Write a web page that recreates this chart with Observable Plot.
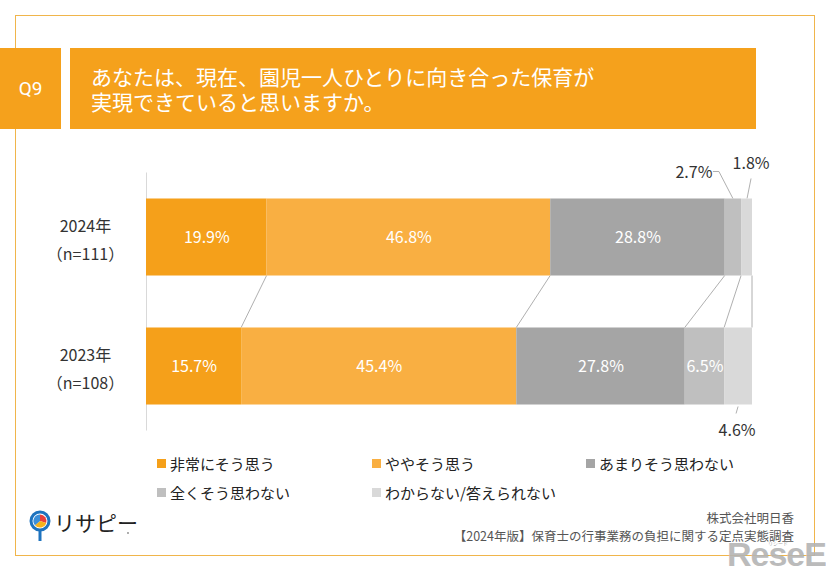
<!DOCTYPE html>
<html lang="ja">
<head>
<meta charset="utf-8">
<script src="https://cdn.jsdelivr.net/npm/d3@7"></script>
<script src="https://cdn.jsdelivr.net/npm/@observablehq/plot@0.6"></script>
<style>
  html, body { margin: 0; padding: 0; background: #fff; }
  body { width: 826px; height: 571px; position: relative; overflow: hidden;
         font-family: "Noto Sans CJK JP", "Noto Sans", sans-serif; }
  #chart { position: absolute; left: 0; top: 0; }
  .abs { position: absolute; }
  #frame { left: 15px; top: 15px; width: 800px; height: 541px; box-sizing: border-box;
           border: 1.5px solid #F0B54B; pointer-events: none; }
  .hdr { background: #F5A11C; color: #fff; }
  #q { left: 0; top: 48px; width: 61px; height: 81px; display: flex; align-items: center;
       justify-content: center; font-family: Roboto, "Noto Sans", sans-serif; font-size: 19px; }
  #title { left: 70px; top: 48px; width: 686px; height: 81px; box-sizing: border-box;
           padding-left: 21px; display: flex; flex-direction: column; justify-content: center;
           font-size: 21px; line-height: 25px; }
  .leg { font-size: 15px; color: #222; display: flex; align-items: center; height: 20px; white-space: nowrap; }
  .sw { width: 9px; height: 9px; margin-right: 4px; display: inline-block; }
  #cap { right: 32px; top: 509px; text-align: right; font-size: 12.5px; line-height: 18px; color: #555; }
  #logo { left: 28px; top: 508px; }
  #wm { left: 727px; top: 537px; font-family: "Liberation Sans", sans-serif; font-weight: bold;
        font-size: 34px; line-height: 34px; color: #b4b4b4; letter-spacing: -1px; opacity: 0.9; }
  #wmk { left: 768px; top: 540px; font-size: 5px; line-height: 5px; color: #aaa; }
</style>
</head>
<body>
<div id="chart"></div>
<script>
// ---- data ----
const years = ["2024", "2023"];
const yearLabels = ["2024年\n（n=111）", "2023年\n（n=108）"];
const categories = ["非常にそう思う", "ややそう思う", "あまりそう思わない", "全くそう思わない", "わからない/答えられない"];
const values2024 = [19.9, 46.8, 28.8, 2.7, 1.8];
const values2023 = [15.7, 45.4, 27.8, 6.5, 4.6];
const colors = ["#F5A01A", "#F9AF42", "#A5A5A5", "#BFBFBF", "#D9D9D9"];
const legendRows = [[0, 1, 2], [3, 4]];

// table built from the arrays
const seriesByYear = { "2024": values2024, "2023": values2023 };
const table = years.flatMap(y => categories.map((c, i) => ({ year: y, cat: c, value: seriesByYear[y][i] })));
const cum = arr => arr.map((v, i) => d3.sum(arr.slice(0, i + 1)));
const cum2024 = cum(values2024), cum2023 = cum(values2023);
const fmt = v => v.toFixed(1) + "%";

const stackOpts = { x: "value", y: "year", z: "cat", order: categories };

// connectors + leader lines drawn from the plot's scales
function connectors(index, scales) {
  const { x, y } = scales;
  const bw = y.bandwidth();
  const g = d3.create("svg:g").attr("fill", "none").attr("stroke", "#9a9a9a").attr("stroke-width", 0.8);
  const yTopBottom = y("2024") + bw, yBotTop = y("2023");
  cum2024.forEach((c, i) => {
    g.append("line").attr("x1", x(c)).attr("y1", yTopBottom).attr("x2", x(cum2023[i])).attr("y2", yBotTop);
  });
  const m27 = x(cum2024[3] - values2024[3] / 2), top24 = y("2024");
  g.append("polyline").attr("points", `${m27 - 20},${top24 - 27} ${m27 - 14},${top24 - 27} ${m27},${top24}`);
  const m18 = x(cum2024[4] - values2024[4] / 2);
  g.append("line").attr("x1", m18 + 4.5).attr("y1", top24 - 20).attr("x2", m18 + 0.5).attr("y2", top24);
  const m46 = x(cum2023[4] - values2023[4] / 2), bot23 = y("2023") + bw;
  g.append("line").attr("x1", m46).attr("y1", bot23 + 2).attr("x2", m46 - 2).attr("y2", bot23 + 9);
  return g.node();
}

const chart = Plot.plot({
  width: 826,
  height: 571,
  marginLeft: 146,
  marginRight: 74,
  marginTop: 172.5,
  marginBottom: 140.5,
  style: { fontFamily: '"Noto Sans CJK JP", "Noto Sans", sans-serif', background: "transparent" },
  x: { domain: [0, 100], axis: null },
  y: { type: "band", domain: years, paddingInner: 0.403, paddingOuter: 0.2015, round: false, label: null },
  color: { domain: categories, range: colors },
  marks: [
    Plot.ruleX([0], { stroke: "#d9d9d9", strokeWidth: 1 }),
    connectors,
    Plot.barX(table, Plot.stackX({ ...stackOpts, fill: "cat" })),
    Plot.text(table, Plot.stackX({ ...stackOpts, text: d => d.value >= 5 ? fmt(d.value) : null,
      fill: "white", fontSize: 16 })),
    Plot.text(table, Plot.stackX({ ...stackOpts,
      text: d => d.year === "2024" && d.cat === categories[3] ? fmt(d.value) : null,
      fill: "#333", fontSize: 16, textAnchor: "end", dx: -21, dy: -64.5 })),
    Plot.text(table, Plot.stackX({ ...stackOpts,
      text: d => d.year === "2024" && d.cat === categories[4] ? fmt(d.value) : null,
      fill: "#333", fontSize: 16, dx: 4, dy: -73.5 })),
    Plot.text(table, Plot.stackX({ ...stackOpts,
      text: d => d.year === "2023" && d.cat === categories[4] ? fmt(d.value) : null,
      fill: "#333", fontSize: 16, dx: -1.5, dy: 64.5 })),
    Plot.axisY({ tickSize: 0, tickPadding: 0, dx: -61, textAnchor: "middle", lineHeight: 1.75,
      fontSize: 16, fill: "#333", label: null,
      tickFormat: d => yearLabels[years.indexOf(d)] })
  ]
});
document.getElementById("chart").append(chart);
</script>

<div id="frame" class="abs"></div>
<div id="q" class="abs hdr">Q9</div>
<div id="title" class="abs hdr">
  <div>あなたは、現在、園児一人ひとりに向き合った保育が</div>
  <div>実現できていると思いますか。</div>
</div>

<div id="legend"></div>
<script>
  const legX = [157, 372, 586];
  const legY = [453, 482];
  legendRows.forEach((row, r) => row.forEach((ci, c) => {
    const d = document.createElement("div");
    d.className = "abs leg";
    d.style.left = legX[c] + "px";
    d.style.top = legY[r] + "px";
    d.innerHTML = `<span class="sw" style="background:${colors[ci]}"></span>${categories[ci]}`;
    document.getElementById("legend").append(d);
  }));
</script>

<div id="logo" class="abs">
  <svg width="110" height="40" viewBox="0 0 110 40">
    <circle cx="12" cy="13" r="9" fill="#fff" stroke="#1E73BE" stroke-width="3"/>
    <path d="M12,13 L12,6.5 A6.5,6.5 0 0 1 18.2,15 Z" fill="#E8403B"/>
    <path d="M12,13 L18.2,15 A6.5,6.5 0 0 1 7,17.2 Z" fill="#F5B21B"/>
    <path d="M12,13 L7,17.2 A6.5,6.5 0 0 1 12,6.5 Z" fill="#3B8FD9"/>
    <line x1="12" y1="22" x2="12" y2="33" stroke="#1E73BE" stroke-width="3"/>
    <text x="26" y="23" font-size="21" fill="#222" font-family="Noto Sans CJK JP">リサピー</text>
    <circle cx="100" cy="25" r="0.9" fill="#888"/>
  </svg>
</div>
<div id="cap" class="abs">株式会社明日香<br>【2024年版】保育士の行事業務の負担に関する定点実態調査</div>
<div id="wmk" class="abs">リシード</div>
<div id="wm" class="abs">ReseEd</div>
</body>
</html>
